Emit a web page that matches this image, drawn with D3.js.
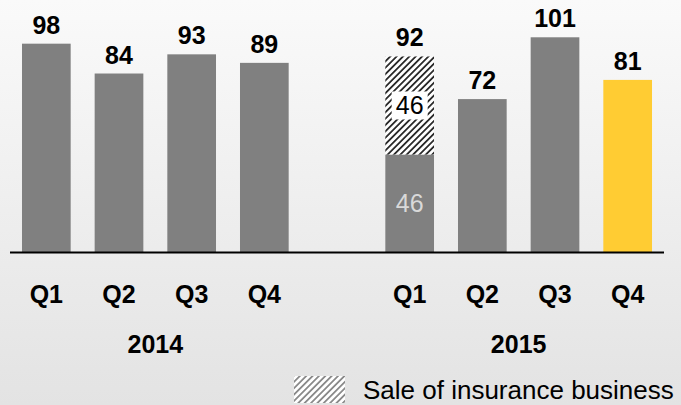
<!DOCTYPE html>
<html lang="en">
<head>
  <meta charset="UTF-8">
  <title>Quarterly results 2014-2015</title>
  <script src="https://d3js.org/d3.v7.min.js"></script>
  <style>
    body { margin: 0; }
    svg { display: block; }
    text { font-family: Arial, "Liberation Sans", sans-serif; fill: #000; }
  </style>
</head>
<body>
  <svg width="681" height="405"></svg>

  <script>
    const width = 681, height = 405;

    // data
    const years = ["2014", "2015"];
    const quarters = ["Q1", "Q2", "Q3", "Q4"];
    const values2014 = [98, 84, 93, 89];
    const values2015 = [92, 72, 101, 81];
    const saleBase = 46;   // 2015 Q1 without the sale
    const saleExtra = 46;  // sale of insurance business part

    // one slot per quarter, plus an empty slot between the years
    const rows = [];
    quarters.forEach((q, i) => rows.push({ key: "2014" + q, year: "2014", q, value: values2014[i] }));
    rows.push({ key: "gap", year: null });
    quarters.forEach((q, i) => rows.push({ key: "2015" + q, year: "2015", q, value: values2015[i] }));

    const svg = d3.select("svg");
    const defs = svg.append("defs");

    // background gradient
    const grad = defs.append("linearGradient").attr("id", "bg")
      .attr("x1", 0).attr("y1", 0).attr("x2", 0).attr("y2", 1);
    grad.append("stop").attr("offset", "0%").attr("stop-color", "#fafafa");
    grad.append("stop").attr("offset", "100%").attr("stop-color", "#e3e3e3");
    svg.append("rect").attr("width", width).attr("height", height).attr("fill", "url(#bg)");

    // hatch patterns (bar = dark, legend = lighter)
    function hatch(id, color, size, stripe) {
      const p = defs.append("pattern").attr("id", id)
        .attr("patternUnits", "userSpaceOnUse")
        .attr("width", size).attr("height", size)
        .attr("patternTransform", "rotate(45)");
      p.append("rect").attr("width", size).attr("height", size).attr("fill", "#fff");
      p.append("rect").attr("width", stripe).attr("height", size).attr("fill", color);
    }
    hatch("hatchBar", "#2a2a2a", 4.5, 1.8);
    hatch("hatchLegend", "#8a8a8a", 4.5, 1.8);

    const x = d3.scaleBand()
      .domain(rows.map(d => d.key))
      .range([10, 664])
      .paddingInner(0.33)
      .paddingOuter(0.165);

    const y = d3.scaleLinear()
      .domain([0, 118.5])
      .range([252.5, 0]);

    const bars = rows.filter(d => d.year);

    // normal bars
    svg.append("g")
      .selectAll("rect")
      .data(bars.filter(d => d.key !== "2015Q1"))
      .join("rect")
      .attr("x", d => x(d.key))
      .attr("y", d => y(d.value))
      .attr("width", x.bandwidth())
      .attr("height", d => y(0) - y(d.value))
      .attr("fill", d => d.key === "2015Q4" ? "#ffcc33" : "#808080");

    // 2015 Q1 stacked: base + sale of insurance business
    const bx = x("2015Q1");
    svg.append("rect")
      .attr("x", bx).attr("width", x.bandwidth())
      .attr("y", y(saleBase)).attr("height", y(0) - y(saleBase))
      .attr("fill", "#808080");
    svg.append("rect")
      .attr("x", bx).attr("width", x.bandwidth())
      .attr("y", y(saleBase + saleExtra)).attr("height", y(saleBase) - y(saleBase + saleExtra))
      .attr("fill", "url(#hatchBar)");

    const cx = bx + x.bandwidth() / 2;
    const midBase = (y(0) + y(saleBase)) / 2;
    const midSale = (y(saleBase) + y(saleBase + saleExtra)) / 2;
    svg.append("rect")
      .attr("x", cx - 18).attr("y", midSale - 14)
      .attr("width", 36).attr("height", 28)
      .attr("fill", "#fff");
    svg.append("text")
      .attr("x", cx).attr("y", midSale + 9)
      .attr("text-anchor", "middle")
      .style("font-size", "25px")
      .text(saleExtra);
    svg.append("text")
      .attr("x", cx).attr("y", midBase + 9)
      .attr("text-anchor", "middle")
      .style("font-size", "25px")
      .style("fill", "#d9d9d9")
      .text(saleBase);

    // value labels above bars
    svg.append("g")
      .selectAll("text")
      .data(bars)
      .join("text")
      .attr("x", d => x(d.key) + x.bandwidth() / 2)
      .attr("y", d => y(d.value) - 10)
      .attr("text-anchor", "middle")
      .style("font-size", "25px")
      .style("font-weight", "bold")
      .text(d => d.value);

    // baseline
    svg.append("line")
      .attr("x1", 10).attr("x2", 664)
      .attr("y1", y(0)).attr("y2", y(0))
      .attr("stroke", "#000").attr("stroke-width", 2);

    // quarter labels
    svg.append("g")
      .selectAll("text")
      .data(bars)
      .join("text")
      .attr("x", d => x(d.key) + x.bandwidth() / 2)
      .attr("y", 303)
      .attr("text-anchor", "middle")
      .style("font-size", "25px")
      .style("font-weight", "bold")
      .text(d => d.q);

    // year labels, centred under their quarters
    svg.append("g")
      .selectAll("text")
      .data(years)
      .join("text")
      .attr("x", yr => {
        const a = x(yr + "Q1"), b = x(yr + "Q4") + x.bandwidth();
        return (a + b) / 2;
      })
      .attr("y", 353)
      .attr("text-anchor", "middle")
      .style("font-size", "25px")
      .style("font-weight", "bold")
      .text(yr => yr);

    // legend
    svg.append("rect")
      .attr("x", 294).attr("y", 376)
      .attr("width", 51).attr("height", 27)
      .attr("fill", "url(#hatchLegend)");
    svg.append("text")
      .attr("x", 363).attr("y", 399)
      .style("font-size", "26px")
      .text("Sale of insurance business");
  </script>
</body>
</html>
